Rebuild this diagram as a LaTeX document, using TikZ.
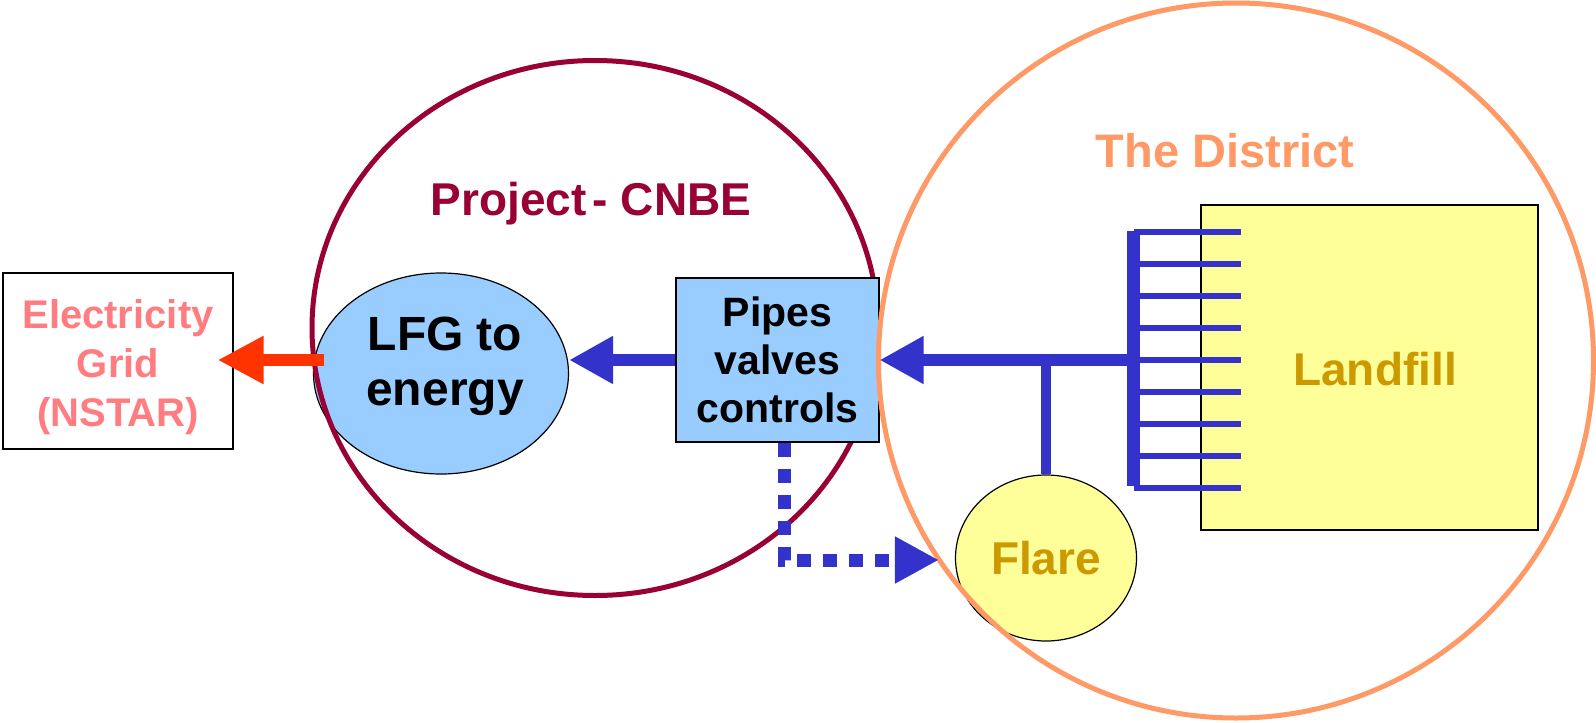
\documentclass[tikz,border=0pt]{standalone}
\usepackage{fontspec}
\setmainfont{Liberation Sans}
\usetikzlibrary{shapes.geometric,arrows.meta}
\definecolor{crimson}{HTML}{990033}
\definecolor{distorange}{HTML}{FF9966}
\definecolor{lightblue}{HTML}{99CCFF}
\definecolor{lightyellow}{HTML}{FFFF99}
\definecolor{goldtext}{HTML}{CC9900}
\definecolor{gridpink}{HTML}{FF7C80}
\definecolor{arrowred}{HTML}{FF3300}
\definecolor{pipeblue}{HTML}{3333CC}
\begin{document}
\begin{tikzpicture}[x=1pt,y=-1pt,
  bigfont/.style={font=\fontsize{46}{53}\selectfont\bfseries},
  outline/.style={draw=black,line width=1.2pt,inner sep=0pt,align=center},
  ring/.style={ellipse,line width=5pt,inner sep=0pt},
  pipe/.style={draw=pipeblue,line width=12pt},
  bluearrow/.style={pipe,-{Triangle[length=44pt,width=45pt]}},
  redarrow/.style={draw=arrowred,line width=12pt,-{Triangle[length=46pt,width=45pt]}},
  dotarrow/.style={draw=pipeblue,line width=13pt,dash pattern=on 14pt off 12pt,-{Triangle[length=44pt,width=44pt]}},
  tooth/.style={draw=pipeblue,line width=6pt}]
\useasboundingbox (0,0) rectangle (1596,723);

% electricity grid
\node[outline,rectangle,fill=white,minimum width=230pt,minimum height=176pt] (grid) at (118,361) {};
\node[text=gridpink,font=\fontsize{40}{49}\selectfont\bfseries,align=center,inner sep=0pt] (gridtext) at (118,367)
      {Electricity\\Grid\\(NSTAR)};

% LFG to energy
\node[outline,ellipse,fill=lightblue,minimum width=255pt,minimum height=201pt] (lfg) at (441,373.5) {};
\node[font=\fontsize{48}{55}\selectfont\bfseries,align=center,inner sep=0pt] (lfgtext) at (445,366) {LFG to\\energy};

% project circle
\node[ring,draw=crimson,minimum width=566pt,minimum height=535pt] (project) at (595,328) {};
\node[bigfont,text=crimson,anchor=base,inner sep=0pt] (projlabel) at (591,215) {Project\hspace{6pt}- CNBE};

% pipes box
\node[outline,rectangle,fill=lightblue,minimum width=203pt,minimum height=164pt,
      font=\fontsize{41}{48}\selectfont\bfseries] (pipes) at (777.5,360) {Pipes\\valves\\controls};

% landfill and flare
\node[outline,rectangle,fill=lightyellow,minimum width=337pt,minimum height=325pt] (landfill) at (1369.5,367.5) {};
\node[bigfont,text=goldtext,anchor=base,inner sep=0pt] (landfilltext) at (1375,385) {Landfill};
\node[outline,ellipse,fill=lightyellow,minimum width=181pt,minimum height=166pt,bigfont,text=goldtext] (flare) at (1046,558) {Flare};

% district circle
\node[ring,draw=distorange,minimum width=715pt,minimum height=715pt] (district) at (1236,360.5) {};
\node[font=\fontsize{47}{54}\selectfont\bfseries,text=distorange,anchor=base,inner sep=0pt] (distlabel) at (1225,167) {The District};

% gas collection comb
\coordinate (combtop) at (1133.5,231);
\coordinate (combbot) at (1133.5,486);
\coordinate (combjoin) at (1133.5,360);
\draw[pipe,line width=13pt] (combtop) -- (combbot);
\foreach \k in {0,...,8}
  \draw[tooth] (1134,{231.7+32*\k}) -- (1241,{231.7+32*\k});

% connectors
\draw[bluearrow] (combjoin) -- (pipes.east);
\draw[pipe,line width=10pt] (flare.north |- pipes.east) -- (flare.north);
\draw[bluearrow] (pipes.west) -- (lfg.east |- pipes.west);
\draw[redarrow] ([xshift=11pt]lfg.west |- pipes.west) -- ([xshift=-16pt]grid.east |- pipes.west);
\draw[dotarrow,shorten >=16pt] ([xshift=6.5pt]pipes.south) |- ([yshift=-2pt]flare.west);
\end{tikzpicture}
\end{document}
